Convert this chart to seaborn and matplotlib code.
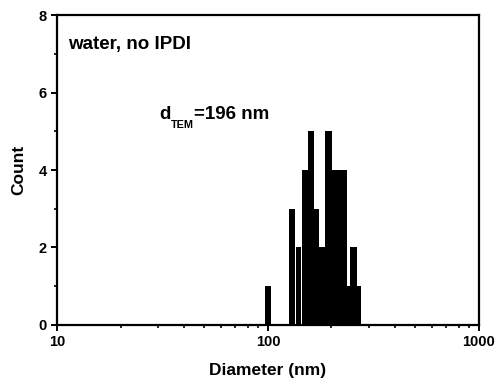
import numpy as np
import pandas as pd
import matplotlib
matplotlib.use('Agg')
import matplotlib.pyplot as plt
import seaborn as sns
from matplotlib.ticker import LogLocator, MultipleLocator, FixedLocator, NullFormatter

# 柱的左右边界 (nm) 和计数，读自原图
bin_left = [96.8, 125.8, 135.3, 145.4, 155.2, 165.8, 174.4, 186.2, 201.7, 236.1, 244.7, 264.9]
bin_right = [103.3, 134.3, 143.3, 155.2, 165.8, 174.4, 186.2, 201.7, 236.1, 244.7, 264.9, 276.0]
counts = [1, 3, 2, 4, 5, 3, 2, 5, 4, 1, 2, 1]

x_ticks = [10, 100, 1000]
y_ticks = [0, 2, 4, 6, 8]

sns.set_style('ticks')
plt.rcParams['font.family'] = ['Liberation Sans', 'DejaVu Sans']
plt.rcParams['font.weight'] = 'bold'
for k in ['text.color', 'axes.labelcolor', 'xtick.color', 'ytick.color', 'axes.edgecolor']:
  plt.rcParams[k] = 'black'

df = pd.DataFrame({'left': bin_left, 'right': bin_right, 'count': counts})
df['center'] = np.sqrt(df['left'] * df['right'])
edges = sorted(set(bin_left) | set(bin_right))

fig = plt.figure(figsize=(4.97, 3.81), dpi=100)
ax = fig.add_axes([0.1147, 0.147, 0.849, 0.8136])

sns.histplot(data=df, x='center', weights='count', bins=edges, ax=ax,
             color='black', edgecolor='none', alpha=1, linewidth=0)

ax.set_xscale('log')
ax.set_xlim(10, 1000)
ax.set_ylim(0, 8)
ax.xaxis.set_major_locator(FixedLocator(x_ticks))
ax.set_xticklabels([str(t) for t in x_ticks])
ax.xaxis.set_minor_locator(LogLocator(base=10, subs=np.arange(2, 10)))
ax.xaxis.set_minor_formatter(NullFormatter())
ax.yaxis.set_major_locator(FixedLocator(y_ticks))
ax.yaxis.set_minor_locator(MultipleLocator(1))

for s in ax.spines.values():
  s.set_visible(True)
  s.set_linewidth(1.6)

ax.tick_params(which='major', direction='out', length=4, width=1.4, labelsize=10.5, pad=3.5)
ax.tick_params(which='minor', direction='out', length=2.5, width=1.2)
ax.tick_params(top=False, right=False, which='both')
for lab in ax.get_xticklabels() + ax.get_yticklabels():
  lab.set_fontweight('bold')

ax.set_xlabel('Diameter (nm)', fontsize=12.5, fontweight='bold', labelpad=10)
ax.set_ylabel('Count', fontsize=12.5, fontweight='bold', labelpad=9)

ax.text(0.027, 0.89, 'water, no IPDI', transform=ax.transAxes, fontsize=13.5, fontweight='bold')

# d_TEM=196 nm，下标位置较低
t1 = ax.text(0.243, 0.665, 'd', transform=ax.transAxes, fontsize=13.5, fontweight='bold', va='baseline')
t2 = ax.annotate('TEM', xy=(1, 0), xycoords=t1, xytext=(0.3, 2), textcoords='offset points',
                 fontsize=7.8, fontweight='bold', va='top', ha='left')
t3 = ax.annotate('=196 nm', xy=(1, 0), xycoords=(t2, t1), xytext=(0, 0), textcoords='offset points',
                 fontsize=13.5, fontweight='bold', va='bottom', ha='left')

plt.savefig('out.png', dpi=100)
